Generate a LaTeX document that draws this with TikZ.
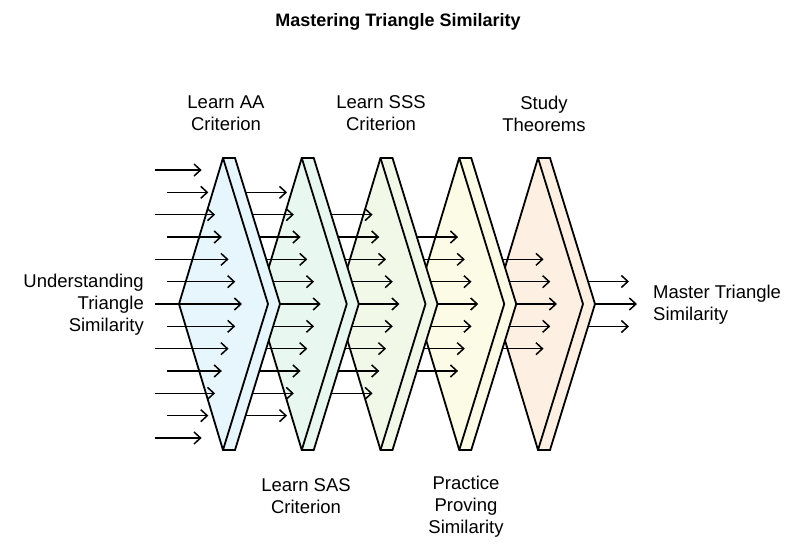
\documentclass[tikz,border=0pt]{standalone}
\usepackage{fontspec}
\setmainfont{Liberation Sans}
\usetikzlibrary{arrows.meta}
\definecolor{sA}{HTML}{E6F6FC}
\definecolor{sB}{HTML}{E8F7F0}
\definecolor{sC}{HTML}{F1F8E8}
\definecolor{sD}{HTML}{FBFBE6}
\definecolor{sE}{HTML}{FDF0E3}
\tikzset{
  stageline/.style={draw=black, line width=1.8pt, line join=miter},
  flow/.style={line width=1.5pt, -{Straight Barb[length=6.5pt,width=12pt]}},
  lbl/.style={font=\fontsize{18.5}{22}\selectfont, align=center, inner sep=0pt},
  ttl/.style={font=\fontsize{18}{20}\selectfont\bfseries, inner sep=0pt},
}
\newcommand\mystage[2]{%
  \filldraw[fill=#2, stageline] ({#1-44},304) -- (#1,158) -- ({#1+12},158) -- ({#1+57},304) -- ({#1+12},450) -- (#1,450) -- cycle;
  \draw[stageline] (#1,158) -- ({#1+45},304) -- (#1,450);
}
% #1 target top x, #2 half count, #3 start x
\newcommand\myflows[3]{%
  \foreach \j in {-#2,...,#2}{%
    \pgfmathsetmacro\yy{304+22.33*\j}%
    \pgfmathsetmacro\xe{#1+19-6.73*abs(\j)}%
    \draw[flow] (#3,\yy) -- (\xe,\yy);
  }%
}
\begin{document}
\begin{tikzpicture}[x=1pt,y=-1pt]
\fill[white] (0,0) rectangle (794,547);
\useasboundingbox (0,0) rectangle (794,547);

% output flows
\foreach \j in {-1,0,1}{%
  \pgfmathsetmacro\yy{304+22.5*\j}%
  \pgfmathsetmacro\xe{637-8*abs(\j)}%
  \draw[flow] (550,\yy) -- (\xe,\yy);
}
\mystage{538}{sE}
\myflows{538}{2}{470}
\mystage{459.25}{sD}
\myflows{459.25}{3}{392}
\mystage{380.5}{sC}
\myflows{380.5}{4}{313}
\mystage{301.75}{sB}
\myflows{301.75}{5}{235}
\mystage{223}{sA}
% input flows (alternating starts)
\foreach \j in {-6,...,6}{%
  \pgfmathsetmacro\yy{304+22.33*\j}%
  \pgfmathsetmacro\xe{223+19-6.73*abs(\j)}%
  \pgfmathsetmacro\xs{155+12*mod(abs(\j),2)}%
  \draw[flow] (\xs,\yy) -- (\xe,\yy);
}

\node[ttl] (title) at (398,22) {Mastering Triangle Similarity};
\node[lbl, align=right, anchor=east] (start) at (144,305) {Understanding\\Triangle\\Similarity};
\node[lbl, align=left, anchor=west] (goal) at (653,305) {Master Triangle\\Similarity};
\node[lbl] (aa) at (226,113.5) {Learn AA\\Criterion};
\node[lbl] (sss) at (381,113.5) {Learn SSS\\Criterion};
\node[lbl] (thm) at (544,113.5) {Study\\Theorems};
\node[lbl] (sas) at (306,496) {Learn SAS\\Criterion};
\node[lbl] (prac) at (466,507) {Practice\\Proving\\Similarity};
\end{tikzpicture}
\end{document}
